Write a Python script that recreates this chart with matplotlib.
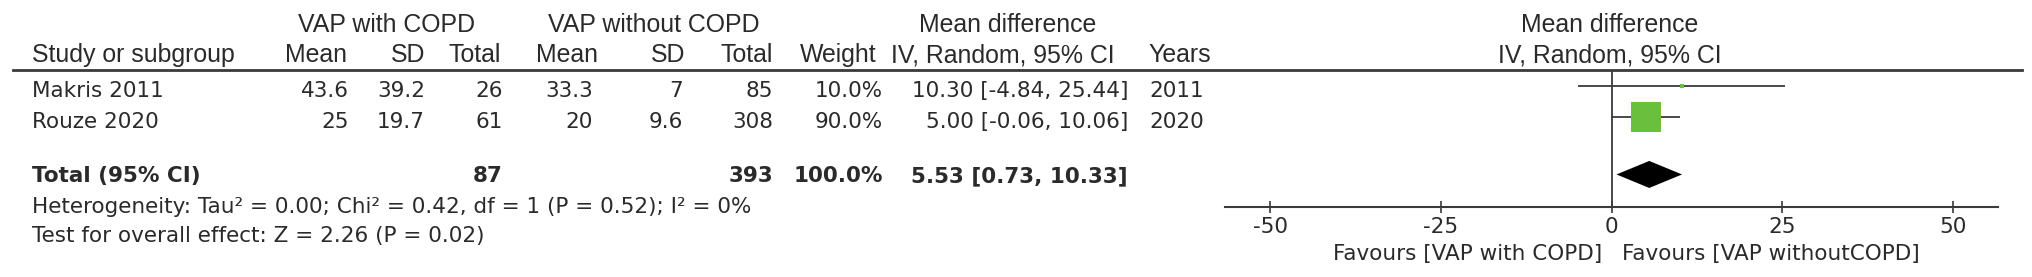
import matplotlib
matplotlib.use('Agg')
import matplotlib.pyplot as plt
from matplotlib.lines import Line2D
from matplotlib.patches import Polygon

# study level data
studies = ['Makris 2011', 'Rouze 2020']
copd_mean = [43.6, 25]
copd_sd = [39.2, 19.7]
copd_n = [26, 61]
nocopd_mean = [33.3, 20]
nocopd_sd = [7, 9.6]
nocopd_n = [85, 308]
weights = [10.0, 90.0]
md = [10.30, 5.00]
ci_lo = [-4.84, -0.06]
ci_hi = [25.44, 10.06]
years = [2011, 2020]

# pooled result
total_copd_n = 87
total_nocopd_n = 393
total_weight = 100.0
total_md = 5.53
total_lo = 0.73
total_hi = 10.33
heterogeneity = 'Heterogeneity: Tau² = 0.00; Chi² = 0.42, df = 1 (P = 0.52); I² = 0%'
overall = 'Test for overall effect: Z = 2.26 (P = 0.02)'

xticks = [-50, -25, 0, 25, 50]
left_label = 'Favours [VAP with COPD]'
right_label = 'Favours [VAP withoutCOPD]'

plt.rcParams['axes.unicode_minus'] = False

W, H = 2032, 277
fig = plt.figure(figsize=(W / 100, H / 100), dpi=100)

txt_c = '#2a2a2a'
line_c = '#3a3a3a'
green = '#6abf3c'
head = dict(family='Liberation Sans', size=17.9, color=txt_c, va='baseline')
body = dict(family='DejaVu Sans', size=15.5, color=txt_c, va='baseline')


def fx(x):
    return x / W


def fy(y):
    return 1 - y / H


# header rows
for s, xc in [('VAP with COPD', 387), ('VAP without COPD', 654),
              ('Mean difference', 1008), ('Mean difference', 1610)]:
    fig.text(fx(xc), fy(32), s, ha='center', **head)

fig.text(fx(32), fy(62), 'Study or subgroup', ha='left', **head)
for s, xr in [('Mean', 347), ('SD', 425), ('Total', 501), ('Mean', 598),
              ('SD', 685), ('Total', 773), ('Weight', 877)]:
    fig.text(fx(xr), fy(62), s, ha='right', **head)
fig.text(fx(1003), fy(62), 'IV, Random, 95% CI', ha='center', **head)
fig.text(fx(1148), fy(62), 'Years', ha='left', **head)
fig.text(fx(1610), fy(62), 'IV, Random, 95% CI', ha='center', **head)

fig.add_artist(Line2D([fx(13), fx(2022)], [fy(70), fy(70)], color=line_c, lw=2.0))

# study rows
col_right = [349, 425, 503, 593, 683, 773, 883, 1128]
row_base = [97, 128]
for i, name in enumerate(studies):
    yb = fy(row_base[i])
    fig.text(fx(32), yb, name, ha='left', **body)
    vals = ['{:g}'.format(copd_mean[i]), '{:g}'.format(copd_sd[i]), str(copd_n[i]),
            '{:g}'.format(nocopd_mean[i]), '{:g}'.format(nocopd_sd[i]), str(nocopd_n[i]),
            '{:.1f}%'.format(weights[i]),
            '{:.2f} [{:.2f}, {:.2f}]'.format(md[i], ci_lo[i], ci_hi[i])]
    for v, xr in zip(vals, col_right):
        fig.text(fx(xr), yb, v, ha='right', **body)
    fig.text(fx(1149), yb, str(years[i]), ha='left', **body)

# total row
bold = dict(body, weight='bold')
fig.text(fx(32), fy(182), 'Total (95% CI)', ha='left', **bold)
fig.text(fx(503), fy(182), str(total_copd_n), ha='right', **bold)
fig.text(fx(773), fy(182), str(total_nocopd_n), ha='right', **bold)
fig.text(fx(883), fy(182), '{:.1f}%'.format(total_weight), ha='right', **bold)
fig.text(fx(1128), fy(182), '{:.2f} [{:.2f}, {:.2f}]'.format(total_md, total_lo, total_hi),
         ha='right', **bold)
fig.text(fx(32), fy(213), heterogeneity, ha='left', **body)
fig.text(fx(32), fy(242), overall, ha='left', **body)

# forest plot
row_px = 30.5
top_px = 86
ax = fig.add_axes([fx(1225), 0, (1998 - 1225) / W, 1])
ax.set_xlim(-56.6, 56.6)
ax.set_ylim((H - top_px) / row_px, -top_px / row_px)
ax.patch.set_alpha(0)

rows = [0, 1]
total_row = 2.9
axis_row = (207 - top_px) / row_px
zero_top = (70 - top_px) / row_px

ax.vlines(0, zero_top, axis_row, color=line_c, lw=1.3)
for r, lo, hi, m, w in zip(rows, ci_lo, ci_hi, md, weights):
    ax.plot([lo, hi], [r, r], color=line_c, lw=1.3, solid_capstyle='butt')
    side = max(w * 0.33, 3.5) * 0.72
    ax.plot(m, r, marker='s', ms=side, color=green, mew=0, zorder=3)

dh = 13.5 / row_px
ax.add_patch(Polygon([(total_lo, total_row), (total_md, total_row - dh),
                      (total_hi, total_row), (total_md, total_row + dh)],
                     closed=True, color='black', lw=0))

for side_name in ['top', 'left', 'right']:
    ax.spines[side_name].set_visible(False)
ax.spines['bottom'].set_position(('data', axis_row))
ax.spines['bottom'].set_color(line_c)
ax.spines['bottom'].set_linewidth(1.5)
ax.set_yticks([])
ax.set_xticks(xticks)
ax.set_xticklabels([str(t) for t in xticks], family='DejaVu Sans', fontsize=15.5, color=txt_c)
ax.tick_params(axis='x', direction='inout', length=9, width=1.2, color=line_c, pad=2.5)

fig.text(fx(1602), fy(260), left_label, ha='right', **body)
fig.text(fx(1622), fy(260), right_label, ha='left', **body)

fig.savefig('out.png', dpi=100, facecolor='white')
